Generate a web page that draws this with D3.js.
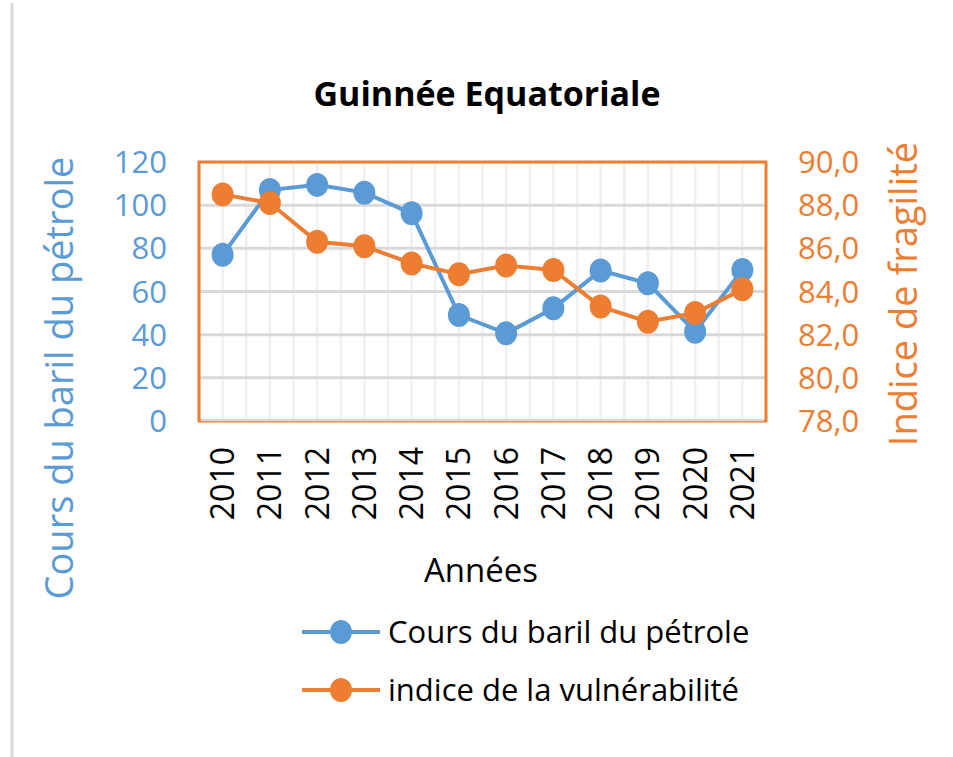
<!DOCTYPE html>
<html>
<head>
<meta charset="utf-8">
<script src="https://cdn.jsdelivr.net/npm/d3@7"></script>
<style>
  body { margin: 0; background: #fff; }
  svg text { font-family: "Open Sans", "Noto Sans", sans-serif; }
</style>
</head>
<body>
<svg id="chart" width="953" height="757"></svg>
<script>
var years = ["2010", "2011", "2012", "2013", "2014", "2015", "2016", "2017", "2018", "2019", "2020", "2021"]
var baril = [77, 107, 109.4, 105.8, 96.2, 49.1, 40.6, 52.2, 69.7, 63.8, 41.4, 70]
var fragilite = [88.5, 88.1, 86.3, 86.1, 85.3, 84.8, 85.2, 85.0, 83.3, 82.6, 83.0, 84.1]
var leftTicks = [0, 20, 40, 60, 80, 100, 120]
var rightTicks = [78, 80, 82, 84, 86, 88, 90]

var blue = "#5b9bd5", orange = "#ed7d31"
var svg = d3.select("#chart")
var pLeft = 199, pRight = 766, pTop = 162, pBottom = 421

// frame line on the left
svg.append("line")
    .attr("x1", 12).attr("x2", 12).attr("y1", 3).attr("y2", 757)
    .attr("stroke", "#d9d9d9").attr("stroke-width", 3)

var x = d3.scaleBand().domain(years).range([pLeft, pRight])
var yL = d3.scaleLinear().domain([0, 120]).range([pBottom, pTop])
var yR = d3.scaleLinear().domain([78, 90]).range([pBottom, pTop])

var g = svg.append("g")

// vertical gridlines, at each band edge and center
var vlines = []
years.forEach(function(d) {
    vlines.push(x(d) + x.bandwidth() / 2)
    vlines.push(x(d))
})
g.selectAll(".vgrid").data(vlines).enter().append("line")
    .attr("x1", d => d).attr("x2", d => d)
    .attr("y1", pTop).attr("y2", pBottom)
    .attr("stroke", "#f0f0f0").attr("stroke-width", 2.5)

g.selectAll(".hgrid").data(leftTicks.slice(1, -1)).enter().append("line")
    .attr("x1", pLeft).attr("x2", pRight)
    .attr("y1", d => yL(d)).attr("y2", d => yL(d))
    .attr("stroke", "#d9d9d9").attr("stroke-width", 3)

// plot border
g.append("rect")
    .attr("x", pLeft).attr("y", pTop)
    .attr("width", pRight - pLeft).attr("height", pBottom - pTop)
    .attr("fill", "none").attr("stroke", orange).attr("stroke-width", 3)
g.append("line")
    .attr("x1", pLeft + 2).attr("x2", pRight - 2).attr("y1", pBottom - 1).attr("y2", pBottom - 1)
    .attr("stroke", "#d9d9d9").attr("stroke-width", 2.5)

var cx = d => x(d) + x.bandwidth() / 2

function series(vals, yScale, col) {
    var line = d3.line()
        .x((d, i) => cx(years[i]))
        .y(d => yScale(d))
    g.append("path")
        .datum(vals)
        .attr("d", line)
        .attr("fill", "none").attr("stroke", col).attr("stroke-width", 4)
    g.selectAll(null).data(vals).enter().append("ellipse")
        .attr("cx", (d, i) => cx(years[i]))
        .attr("cy", d => yScale(d))
        .attr("rx", 11).attr("ry", 12)
        .attr("fill", col)
}
series(baril, yL, blue)
series(fragilite, yR, orange)

// left axis labels
svg.selectAll(".lt").data(leftTicks).enter().append("text")
    .attr("x", 167).attr("y", d => yL(d) + 11)
    .attr("text-anchor", "end")
    .attr("font-size", 31).attr("fill", blue)
    .text(d => d)

// right axis labels
svg.selectAll(".rt").data(rightTicks).enter().append("text")
    .attr("x", 798).attr("y", d => yR(d) + 11)
    .attr("font-size", 31).attr("fill", orange)
    .text(d => d.toFixed(1).replace(".", ","))

// x labels
svg.selectAll(".xt").data(years).enter().append("text")
    .attr("transform", d => "translate(" + (cx(d) + 11.5) + ",447) rotate(-90)")
    .attr("text-anchor", "end")
    .attr("font-size", 32).attr("fill", "#000")
    .text(d => d)

svg.append("text")
    .attr("x", 487).attr("y", 106)
    .attr("text-anchor", "middle")
    .attr("font-size", 34).attr("font-weight", "bold")
    .text("Guinnée Equatoriale")

svg.append("text")
    .attr("x", 481).attr("y", 582)
    .attr("text-anchor", "middle")
    .attr("font-size", 33)
    .text("Années")

svg.append("text")
    .attr("transform", "translate(73,378) rotate(-90)")
    .attr("text-anchor", "middle")
    .attr("font-size", 38).attr("fill", blue)
    .text("Cours du baril du pétrole")

svg.append("text")
    .attr("transform", "translate(917,294) rotate(-90)")
    .attr("text-anchor", "middle")
    .attr("font-size", 38).attr("fill", orange)
    .text("Indice de fragilité")

// legend
var legend = [{name: "Cours du baril du pétrole", col: blue, y: 632},
              {name: "indice de la vulnérabilité", col: orange, y: 690}]
var lg = svg.selectAll(".lg").data(legend).enter().append("g")
lg.append("line")
    .attr("x1", 302).attr("x2", 380).attr("y1", d => d.y).attr("y2", d => d.y)
    .attr("stroke", d => d.col).attr("stroke-width", 4)
lg.append("ellipse")
    .attr("cx", 341).attr("cy", d => d.y).attr("rx", 11).attr("ry", 12)
    .attr("fill", d => d.col)
lg.append("text")
    .attr("x", 388).attr("y", d => d.y + 11)
    .attr("font-size", 31)
    .text(d => d.name)
</script>
</body>
</html>
